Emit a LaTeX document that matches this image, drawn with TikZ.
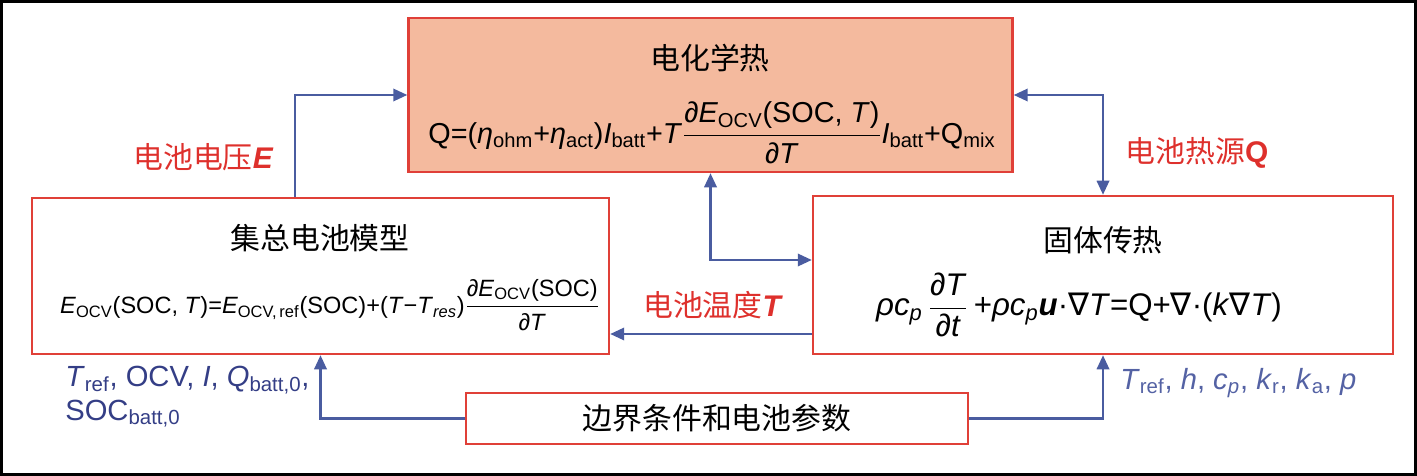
\documentclass[tikz,border=0pt]{standalone}
\usepackage{amsmath}
\usepackage{fontspec}
\setmainfont{Liberation Sans}
\newfontfamily\cjk{Noto Sans CJK SC}
\newfontfamily\nabfont{DejaVu Sans}
\usetikzlibrary{arrows.meta, positioning, calc}

\definecolor{boxred}{RGB}{224,64,56}
\definecolor{peach}{RGB}{244,186,158}
\definecolor{linkblue}{RGB}{74,92,160}
\definecolor{labred}{RGB}{222,48,44}
\definecolor{navy}{RGB}{52,62,134}
\definecolor{slate}{RGB}{84,98,164}

\newcommand{\sbs}[1]{\textsubscript{#1}}
\newcommand{\nab}{{\nabfont ∇}}
\newcommand{\pfrac}[2]{$\dfrac{\text{#1}}{\text{#2}}$}
\newcommand{\bsym}[1]{{\rmfamily\bfseries #1}}

\tikzset{
  modelbox/.style={draw=boxred, line width=1.4pt, minimum width=#1, inner sep=0pt},
  link/.style={draw=linkblue, line width=1.4pt, -{Triangle[length=8pt,width=7pt]}},
  dlink/.style={draw=linkblue, line width=1.4pt, {Triangle[length=8pt,width=7pt]}-{Triangle[length=8pt,width=7pt]}},
  title/.style={font=\cjk\fontsize{17}{20}\selectfont},
  redlab/.style={text=labred, font=\cjk\fontsize{17}{20}\selectfont},
}

\begin{document}
\begin{tikzpicture}[x=0.02cm, y=-0.02cm]
\useasboundingbox (0,0) rectangle (1417,476);
\draw[line width=1.7pt] (1.5,1.5) rectangle (1415.5,474.5);

% model blocks
\node[modelbox=12.08cm, minimum height=3.08cm, fill=peach] (heat) at (710.5,95) {};
\node[modelbox=11.54cm, minimum height=3.12cm] (lumped) at (320.5,276) {};
\node[modelbox=11.6cm, minimum height=3.16cm] (solid) at (1103,275) {};
\node[modelbox=10.04cm, minimum height=1.02cm, line width=0.9pt] (bc) at (717,418.5) {};

% titles
\node[title] (heatT) at (710,58) {电化学热};
\node[title] (lumpedT) at (320,238) {集总电池模型};
\node[title] (solidT) at (1103,240) {固体传热};
\node[title] (bcT) at (717,418) {边界条件和电池参数};

% equations
\node[font=\fontsize{16.4}{20}\selectfont, inner sep=0pt] (heatEq) at (712,133)
  {Q=(\textit{η}\sbs{ohm}+\textit{η}\sbs{act})\textit{I}\sbs{batt}+\textit{T}\pfrac{\textit{∂E}\sbs{OCV}(SOC, \textit{T})}{\textit{∂T}}\textit{I}\sbs{batt}+Q\sbs{mix}};
\node[font=\fontsize{13.4}{16}\selectfont, inner sep=0pt] (lumpedEq) at (330,305)
  {\textit{E}\sbs{OCV}(SOC, \textit{T})=\textit{E}\sbs{OCV,\,ref}(SOC)+(\textit{T}−\textit{T}\sbs{\textit{res}})\pfrac{\textit{∂E}\sbs{OCV}(SOC)}{\textit{∂T}}};
\node[font=\fontsize{17.8}{21}\selectfont, inner sep=0pt] (solidEq) at (1079,305)
  {\textit{ρc}\sbs{\textit{p}}\,\pfrac{\textit{∂T}}{\textit{∂t}}\,+\textit{ρc}\sbs{\textit{p}}\textbf{\textit{u}}·\nab\textit{T}=Q+\nab·(\textit{k}\nab\textit{T})};

% coupling arrows
\coordinate (eX) at (295,0);
\coordinate (tY) at (0,260);
\coordinate (dY) at (0,334);
\draw[link] (lumped.north -| eX) |- (heat.west);
\draw[dlink] (heat.east) -| (solid.north);
\draw[dlink] (heat.south) |- (solid.west |- tY);
\draw[link] (solid.west |- dY) -- (lumped.east |- dY);
\draw[link] (bc.west) -| (lumped.south);
\draw[link] (bc.east) -| (solid.south);

% labels
\node[redlab] (volt) at (203,157) {电池电压\bsym{\itshape E}};
\node[redlab] (hsrc) at (1197,153) {电池热源\bsym{Q}};
\node[redlab] (temp) at (712,305) {电池温度\bsym{\itshape T}};
\node[anchor=west, align=left, text=navy, font=\fontsize{16.6}{19}\selectfont, inner sep=0pt] (lpar) at (65,397)
  {\textit{T}\sbs{ref}, OCV, \textit{I}, \textit{Q}\sbs{batt,0},\\SOC\sbs{batt,0}};
\node[anchor=west, text=slate, font=\fontsize{16.6}{19}\selectfont, inner sep=0pt] (rpar) at (1120,383)
  {\textit{T}\sbs{ref}, \textit{h}, \textit{c}\sbs{\textit{p}}, \textit{k}\sbs{r}, \textit{k}\sbs{a}, \textit{p}};
\end{tikzpicture}
\end{document}
